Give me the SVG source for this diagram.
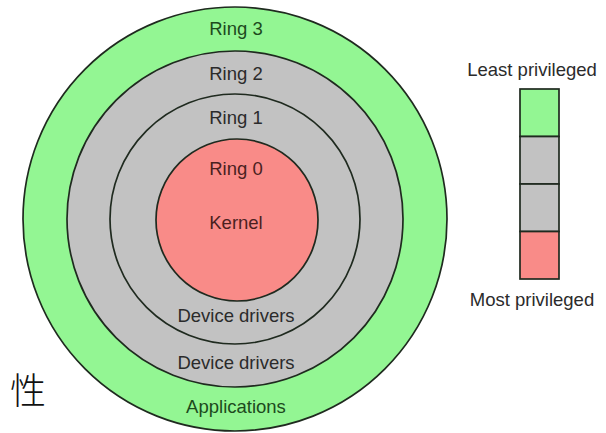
<svg xmlns="http://www.w3.org/2000/svg" width="606" height="433" viewBox="0 0 606 433">
  <style>
    .ring { stroke: #1f2a1f; stroke-width: 1.7; }
    .user { fill: #93f693; }
    .mid { fill: #c2c2c2; }
    .core { fill: #f98b88; }
    .lbl { font-family: "Liberation Sans", Arial, Helvetica, sans-serif; font-size: 18.5px; fill: #2b2b2b; text-anchor: middle; }
    .user-lbl { fill: #1d4a1d; }
    .core-lbl { fill: #4a1f1f; }
    .cjk { font-family: "Noto Sans CJK SC", "Noto Sans CJK TC", sans-serif; font-size: 36px; fill: #111; font-weight: 300; }
  </style>
  <rect width="606" height="433" fill="#ffffff"/>

  <!-- concentric protection rings, outermost first -->
  <g id="ring3">
    <circle class="ring user" cx="235" cy="219" r="212"/>
    <text class="lbl user-lbl" x="236" y="35">Ring 3</text>
    <text class="lbl user-lbl" x="236" y="413">Applications</text>
  </g>
  <g id="ring2">
    <circle class="ring mid" cx="235" cy="219" r="168"/>
    <text class="lbl" x="236" y="80">Ring 2</text>
    <text class="lbl" x="236" y="369">Device drivers</text>
  </g>
  <g id="ring1">
    <circle class="ring mid" cx="235" cy="219" r="125"/>
    <text class="lbl" x="236" y="124">Ring 1</text>
    <text class="lbl" x="236" y="322">Device drivers</text>
  </g>
  <g id="ring0">
    <circle class="ring core" cx="237" cy="220" r="81"/>
    <text class="lbl core-lbl" x="236" y="175">Ring 0</text>
    <text class="lbl core-lbl" x="236" y="229">Kernel</text>
  </g>

  <!-- privilege scale -->
  <g id="legend">
    <text class="lbl" x="532" y="76">Least privileged</text>
    <rect class="ring user" x="520" y="89" width="39" height="47.5"/>
    <rect class="ring mid" x="520" y="136.5" width="39" height="47.5"/>
    <rect class="ring mid" x="520" y="184" width="39" height="47.5"/>
    <rect class="ring core" x="520" y="231.5" width="39" height="47.5"/>
    <text class="lbl" x="532" y="306">Most privileged</text>
  </g>

  <g id="connectors"/>

  <text class="cjk" x="10" y="404">性</text>
</svg>
